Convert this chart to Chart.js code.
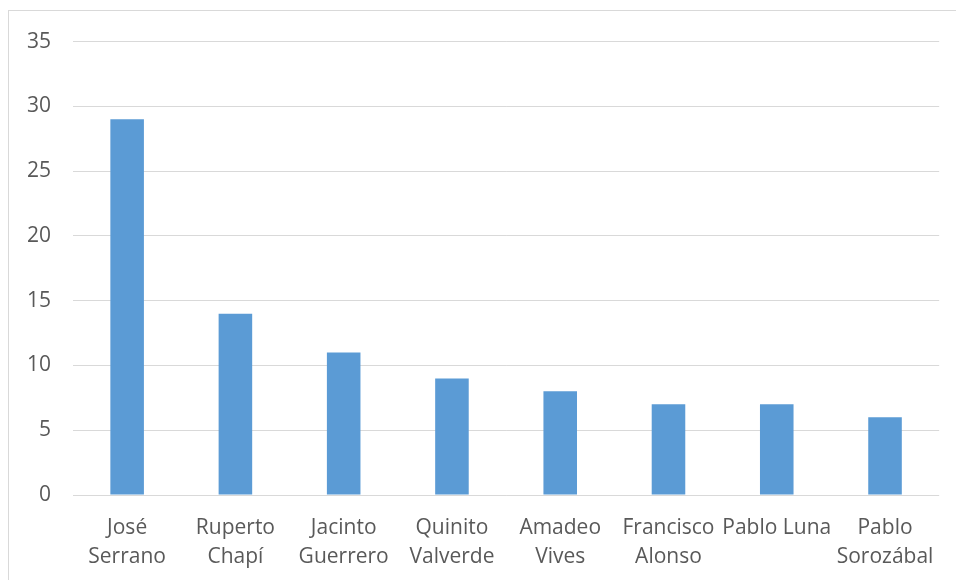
<!DOCTYPE html>
<html lang="es">

<head>
  <meta charset="UTF-8">
  <title>Compositores</title>
  <script src="https://cdn.jsdelivr.net/npm/chart.js"></script>
  <style>
    body { margin: 0; background: #fff; overflow: hidden; }
    .marco {
      position: absolute;
      left: 8px;
      top: 10px;
      width: 980px;
      height: 600px;
      border: 1px solid #d9d9d9;
      box-sizing: border-box;
      overflow: hidden;
    }
    canvas { display: block; margin-top: -4px; }
  </style>
</head>

<body>

  <div class="marco">
    <canvas id="grafico-compositores" width="944" height="573"></canvas>
  </div>

</body>

</html>

<script>

  // datos
  const compositores = [
    ['José', 'Serrano'],
    ['Ruperto', 'Chapí'],
    ['Jacinto', 'Guerrero'],
    ['Quinito', 'Valverde'],
    ['Amadeo', 'Vives'],
    ['Francisco', 'Alonso'],
    'Pablo Luna',
    ['Pablo', 'Sorozábal']
  ];

  const cantidades = [29, 14, 11, 9, 8, 7, 7, 6];

  const ticksY = [0, 5, 10, 15, 20, 25, 30, 35];

  const ctx = document.getElementById('grafico-compositores');

  new Chart(ctx, {
    type: 'bar',
    data: {
      labels: compositores,
      datasets: [{
        label: 'Total',
        data: cantidades,
        backgroundColor: '#5b9bd5',
        categoryPercentage: 1,
        barPercentage: 0.31
      }]
    },
    options: {
      responsive: false,
      animation: false,
      layout: {
        padding: { top: 26, right: 10, bottom: 0, left: 0 }
      },
      plugins: {
        legend: { display: false },
        tooltip: { enabled: false }
      },
      scales: {
        x: {
          grid: { display: false, drawTicks: false },
          border: { display: false },
          ticks: {
            color: '#595959',
            font: { family: 'Open Sans', size: 21, lineHeight: 1.38 },
            padding: 19,
            maxRotation: 0,
            minRotation: 0,
            autoSkip: false
          },
          afterFit: (escala) => { escala.height = 85; }
        },
        y: {
          min: 0,
          max: 35,
          afterBuildTicks: (escala) => {
            escala.ticks = ticksY.map(v => ({ value: v }));
          },
          grid: { color: '#d9d9d9', drawTicks: false },
          border: { display: false },
          ticks: {
            color: '#595959',
            font: { family: 'Open Sans', size: 21 },
            padding: 22
          },
          afterFit: (escala) => { escala.width = 64; }
        }
      }
    }
  });

</script>
